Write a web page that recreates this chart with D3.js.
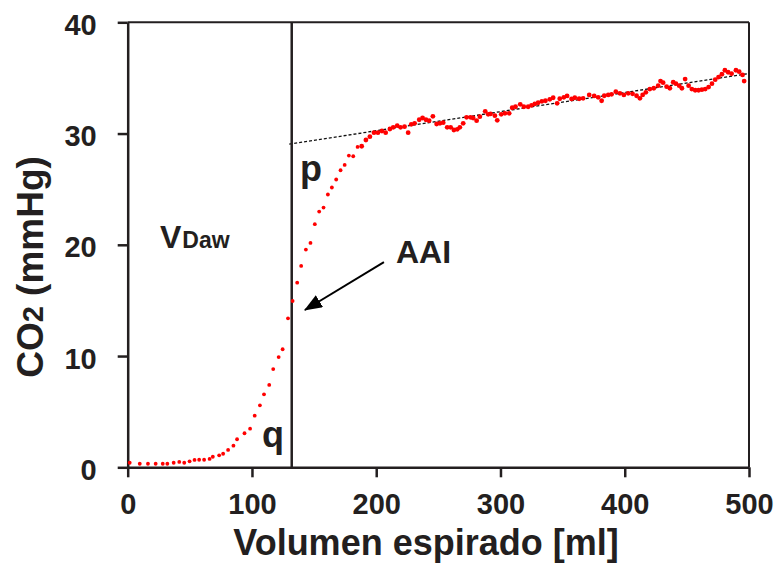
<!DOCTYPE html>
<html>
<head>
<meta charset="utf-8">
<script src="https://cdn.jsdelivr.net/npm/d3@7"></script>
<style>
  body { margin: 0; background: #fff; }
  svg text { font-family: "Liberation Sans", Arial, sans-serif; font-weight: bold; fill: #231f20; }
</style>
</head>
<body>
<div id="chart"></div>
<script>
// expired volume (ml) and CO2 (mmHg)
const vol = [
  1.6, 9.7, 16.3, 22.5, 28.2, 31.9, 37.0, 41.5, 45.5, 49.8, 53.8, 57.5, 61.5, 65.9, 68.5, 73.6,
  76.8, 80.8, 85.1, 88.0, 94.0, 98.5, 102.2, 106.4, 109.7, 113.9, 117.1, 121.5, 124.7, 129.0,
  132.7, 136.4, 139.6, 143.4, 147.1, 150.6, 154.1, 157.6, 161.1, 164.3, 167.8, 171.3, 174.6,
  178.0, 181.5, 185.0, 188.3, 191.7, 194.9, 198.2, 201.4, 204.6, 207.6, 211.0, 213.7, 216.9,
  219.6, 222.8, 225.7, 228.2, 230.9, 234.6, 237.3, 240.0, 242.6, 245.6, 248.6, 251.3, 253.9,
  257.1, 259.9, 262.5, 265.2, 267.3, 270.0, 272.7, 275.9, 278.0, 280.8, 283.4, 287.7, 290.1,
  292.0, 295.5, 297.4, 300.6, 303.6, 307.0, 309.4, 312.1, 315.9, 318.8, 322.3, 325.0, 327.6,
  330.3, 333.3, 336.2, 339.7, 342.4, 345.6, 347.7, 351.0, 353.6, 357.2, 359.8, 363.3, 366.5,
  371.4, 375.4, 378.6, 381.4, 383.5, 386.7, 389.4, 392.8, 396.1, 399.3, 402.8, 406.3, 409.5,
  412.2, 414.4, 417.0, 420.2, 423.4, 426.9, 428.8, 430.9, 433.7, 436.3, 439.0, 441.2, 443.8,
  446.0, 448.6, 451.4, 454.0, 456.7, 459.4, 462.1, 464.8, 467.5, 470.2, 472.8, 475.5, 478.2,
  480.6, 483.2, 486.0, 489.5, 492.1, 494.8, 496.1
];
const co2 = [
  0.41, 0.32, 0.32, 0.32, 0.32, 0.32, 0.41, 0.48, 0.41, 0.54, 0.66, 0.68, 0.68, 0.75, 0.95, 1.08,
  1.22, 1.56, 1.94, 2.52, 3.06, 3.47, 4.64, 5.57, 6.56, 7.40, 8.83, 9.91, 10.61, 13.39,
  14.95, 16.6, 18.10, 19.57, 20.17, 21.85, 22.99, 23.35, 24.52, 25.15, 25.87, 26.70, 27.18,
  28.02, 27.96, 28.80, 28.86, 29.42, 29.72, 30.08, 30.08, 30.23, 30.08, 30.41, 30.56, 30.71,
  30.56, 30.62, 30.08, 30.83, 30.92, 31.24, 31.40, 31.24, 31.16, 31.55, 30.86, 30.92, 30.98,
  30.56, 30.56, 30.32, 30.38, 30.56, 30.92, 31.46, 31.46, 31.40, 31.16, 31.52, 32.0, 31.73,
  31.76, 31.61, 31.19, 31.73, 31.82, 31.82, 32.32, 32.41, 32.63, 32.41, 32.41, 32.54, 32.66,
  32.77, 32.90, 32.95, 33.08, 33.22, 32.72, 33.13, 33.26, 33.38, 33.11, 33.22, 33.13, 33.17,
  33.47, 33.38, 33.26, 32.95, 33.40, 33.47, 33.53, 33.76, 33.62, 33.47, 33.62, 33.57, 33.40,
  33.17, 33.47, 33.71, 34.0, 34.07, 34.30, 34.72, 34.57, 34.21, 34.07, 34.61, 34.48, 34.30,
  34.07, 34.90, 34.30, 34.0, 33.89, 33.89, 33.94, 34.0, 34.18, 34.48, 34.84, 35.08, 35.33,
  35.69, 35.51, 35.38, 35.69, 35.56, 35.27, 34.72
];

const xTicks = [0, 100, 200, 300, 400, 500];
const yTicks = [0, 10, 20, 30, 40];

// phase II / phase III markers
const vDaw = 132;
const slopeStart = [130, 29.05];
const slopeEnd = [500, 35.4];

const W = 777, H = 564;
const margin = { left: 127.7, top: 22.3, right: 28, bottom: 96.7 };
const width = W - margin.left - margin.right;
const height = H - margin.top - margin.bottom;

const svg = d3.select("#chart").append("svg")
    .attr("width", W)
    .attr("height", H);

const g = svg.append("g")
    .attr("transform", `translate(${margin.left},${margin.top})`);

const x = d3.scaleLinear().domain([0, 500]).range([0, width]);
const y = d3.scaleLinear().domain([0, 40]).range([height, 0]);

// frame top + right
g.append("line").attr("x1", 0).attr("x2", width).attr("y1", 0).attr("y2", 0)
    .attr("stroke", "#231f20").attr("stroke-width", 2);
g.append("line").attr("x1", width).attr("x2", width).attr("y1", 0).attr("y2", height)
    .attr("stroke", "#231f20").attr("stroke-width", 2);

const xAxis = g.append("g")
    .attr("transform", `translate(0,${height})`)
    .call(d3.axisBottom(x).tickValues(xTicks).tickSize(10).tickSizeOuter(0).tickPadding(15.7));
const yAxis = g.append("g")
    .call(d3.axisLeft(y).tickValues(yTicks).tickSize(10).tickSizeOuter(0).tickPadding(21));

[xAxis, yAxis].forEach(a => {
    a.select(".domain").attr("stroke", "#231f20").attr("stroke-width", 2.5);
    a.selectAll(".tick line").attr("stroke", "#231f20").attr("stroke-width", 2.5);
    a.selectAll(".tick text").style("font-size", "29px").attr("fill", "#231f20");
});
yAxis.selectAll(".tick text").attr("dy", "0.42em");

// dashed phase III slope
g.append("line")
    .attr("x1", x(slopeStart[0])).attr("y1", y(slopeStart[1]))
    .attr("x2", x(slopeEnd[0])).attr("y2", y(slopeEnd[1]))
    .attr("stroke", "#111").attr("stroke-width", 1.3)
    .attr("stroke-dasharray", "3,2");

// vertical airway dead space line
g.append("line")
    .attr("x1", x(vDaw)).attr("x2", x(vDaw))
    .attr("y1", y(0)).attr("y2", y(40))
    .attr("stroke", "#231f20").attr("stroke-width", 2.5);

const points = vol.map((v, i) => ({ v: v, c: co2[i] }));
g.selectAll(".dot")
    .data(points)
    .enter()
    .append("circle")
    .attr("class", "dot")
    .attr("cx", d => x(d.v))
    .attr("cy", d => y(d.c))
    .attr("r", d => d.v > 185 ? 2.4 : 1.9)
    .attr("fill", "#ff0000");

// labels
g.append("text").attr("x", x(138.6)).attr("y", y(25.7)).style("font-size", "36px").text("p");
g.append("text").attr("x", x(108)).attr("y", y(1.82)).style("font-size", "36px").text("q");

const vd = g.append("text").attr("x", x(26)).attr("y", y(19.7)).style("font-size", "32px");
vd.append("tspan").text("V");
vd.append("tspan").style("font-size", "23px").attr("dx", 1).text("Daw");

g.append("text").attr("x", x(215.9)).attr("y", y(18.4)).style("font-size", "32px").text("AAI");

// arrow to AAI point
svg.append("defs").append("marker")
    .attr("id", "head")
    .attr("markerUnits", "userSpaceOnUse")
    .attr("viewBox", "0 0 18 14")
    .attr("refX", 17).attr("refY", 7)
    .attr("markerWidth", 18).attr("markerHeight", 14)
    .attr("orient", "auto")
    .append("path")
    .attr("d", "M0,0 L18,7 L0,14 Z")
    .attr("fill", "#000");

g.append("line")
    .attr("x1", x(206.2)).attr("y1", y(18.45))
    .attr("x2", x(142.6)).attr("y2", y(14.14))
    .attr("stroke", "#000").attr("stroke-width", 2)
    .attr("marker-end", "url(#head)");

// axis titles
svg.append("text")
    .attr("x", 426).attr("y", 555)
    .attr("text-anchor", "middle")
    .style("font-size", "36px")
    .text("Volumen espirado [ml]");

const yt = svg.append("text")
    .attr("transform", "translate(43,267) rotate(-90)")
    .attr("text-anchor", "middle")
    .style("font-size", "37px");
yt.append("tspan").text("CO");
yt.append("tspan").style("font-size", "29px").text("2");
yt.append("tspan").text(" (mmHg)");
</script>
</body>
</html>
